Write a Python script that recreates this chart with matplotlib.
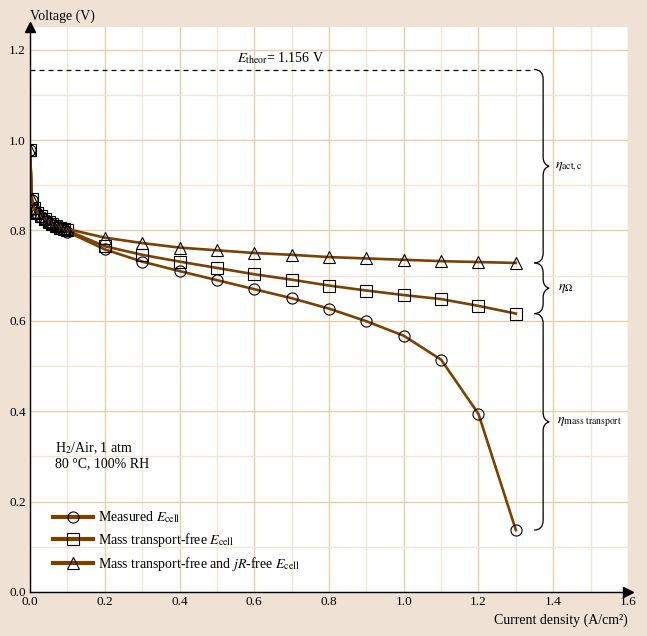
import numpy as np
import matplotlib
matplotlib.use("Agg")
import matplotlib.pyplot as plt
from matplotlib.path import Path
from matplotlib.patches import PathPatch


# -----------------------------
# Data
# -----------------------------

current_density = [0.0, 0.005, 0.01, 0.02, 0.03, 0.04, 0.05, 0.06, 0.07, 0.08, 0.09, 0.1,
                   0.2, 0.3, 0.4, 0.5, 0.6, 0.7, 0.8, 0.9, 1.0, 1.1, 1.2, 1.3]

measured = [0.979, 0.868, 0.848, 0.838, 0.830, 0.823, 0.817, 0.812, 0.808, 0.804, 0.800, 0.797,
            0.758, 0.731, 0.710, 0.690, 0.670, 0.650, 0.627, 0.599, 0.567, 0.514, 0.394, 0.137]

mass_transport_free = [0.979, 0.869, 0.849, 0.839, 0.832, 0.825, 0.819, 0.814, 0.810, 0.806, 0.803, 0.800,
                       0.765, 0.746, 0.731, 0.717, 0.703, 0.691, 0.678, 0.667, 0.657, 0.648, 0.633, 0.616]

jr_free = [0.979, 0.870, 0.850, 0.840, 0.833, 0.827, 0.821, 0.816, 0.812, 0.809, 0.806, 0.803,
           0.784, 0.772, 0.762, 0.756, 0.750, 0.746, 0.741, 0.738, 0.735, 0.732, 0.730, 0.728]

e_theor = 1.156

BG = "#EFE2D5"
LINE = "#7A4100"
MAJOR = "#E6CDAA"
MINOR = "#F1E5D8"

plt.rcParams["font.family"] = ["Liberation Serif", "DejaVu Serif"]
plt.rcParams["mathtext.fontset"] = "stix"
plt.rcParams["font.size"] = 10

fig = plt.figure(figsize=(6.47, 6.36), dpi=100, facecolor=BG)
ax = fig.add_axes([0.0464, 0.0692, 0.9242, 0.8883])
ax.set_facecolor("white")

ax.set_xlim(0, 1.6)
ax.set_ylim(0, 1.25)
ax.set_xticks(np.arange(0, 1.61, 0.2))
ax.set_yticks(np.arange(0, 1.21, 0.2))
ax.set_xticks(np.arange(0.1, 1.6, 0.2), minor=True)
ax.set_yticks(np.arange(0.1, 1.25, 0.2), minor=True)
ax.grid(which="major", color=MAJOR, lw=1.0, zorder=0)
ax.grid(which="minor", color=MINOR, lw=1.0, zorder=0)
ax.set_axisbelow(True)
ax.tick_params(which="both", length=0, labelsize=9.5)
ax.tick_params(axis="x", pad=3)
ax.tick_params(axis="y", pad=3)
ax.xaxis.set_major_formatter(matplotlib.ticker.FormatStrFormatter("%.1f"))
ax.yaxis.set_major_formatter(matplotlib.ticker.FormatStrFormatter("%.1f"))

for side in ["top", "right"]:
    ax.spines[side].set_visible(False)
for side in ["left", "bottom"]:
    ax.spines[side].set_color("black")
    ax.spines[side].set_linewidth(1.0)

# axis arrows
ax.plot([0], [1], marker="^", ms=7, color="black", transform=ax.transAxes, clip_on=False)
ax.plot([1], [0], marker=">", ms=7, color="black", transform=ax.transAxes, clip_on=False)

# curves
mk = dict(mfc="none", mec="black", mew=0.8, ms=8, color=LINE, lw=1.9)
ax.plot(current_density, measured, marker="o", label=r"Measured $E_{\rm cell}$", **mk)
ax.plot(current_density, mass_transport_free, marker="s",
        label=r"Mass transport-free $E_{\rm cell}$", **mk)
ax.plot(current_density, jr_free, marker="^",
        label=r"Mass transport-free and $jR$-free $E_{\rm cell}$", **mk)

# theoretical voltage
x_brace = 1.373
hook_w = 0.024
ax.plot([0, x_brace - hook_w], [e_theor, e_theor], color="black", lw=0.9, ls=(0, (4, 3.2)))
ax.text(0.67, e_theor + 0.008, r"$E_{\rm theor}$= 1.156 V", ha="center", va="bottom", fontsize=10)


def brace(x0, y_top, y_bot, label, label_x):
    w, h, tw, th = hook_w, 0.022, 0.016, 0.02
    ym = (y_top + y_bot) / 2
    verts = [(x0 - w, y_top), (x0, y_top), (x0, y_top - h),
             (x0, ym + th), (x0, ym + 0.004), (x0 + tw, ym),
             (x0, ym - 0.004), (x0, ym - th),
             (x0, y_bot + h), (x0, y_bot), (x0 - w, y_bot)]
    codes = [Path.MOVETO, Path.CURVE3, Path.CURVE3,
             Path.LINETO, Path.CURVE3, Path.CURVE3,
             Path.CURVE3, Path.CURVE3,
             Path.LINETO, Path.CURVE3, Path.CURVE3]
    ax.add_patch(PathPatch(Path(verts, codes), fc="none", ec="black", lw=0.9))
    ax.text(label_x, ym, label, ha="left", va="center", fontsize=10)


brace(x_brace, e_theor, jr_free[-1], r"$\eta_{\rm act,c}$", 1.405)
brace(x_brace, jr_free[-1], mass_transport_free[-1], r"$\eta_{\Omega}$", 1.412)
brace(x_brace, mass_transport_free[-1], measured[-1], r"$\eta_{\rm mass\ transport}$", 1.41)

# conditions
ax.text(0.067, 0.303, "H$_2$/Air, 1 atm\n80 °C, 100% RH", ha="left", va="center",
        fontsize=10, linespacing=1.15)

leg = ax.legend(loc="upper left", bbox_to_anchor=(0.038, 0.146), frameon=False,
                borderaxespad=0, borderpad=0, handlelength=2.9, handletextpad=0.35,
                labelspacing=0.42, fontsize=10)
for line in leg.get_lines():
    line.set_linewidth(3.0)

# axis labels
ax.annotate("Voltage (V)", xy=(0, 1), xycoords="axes fraction", xytext=(0, 8),
            textcoords="offset points", ha="left", va="center", fontsize=10)
ax.annotate("Current density (A/cm²)", xy=(1, 0), xycoords="axes fraction", xytext=(0, -20),
            textcoords="offset points", ha="right", va="center", fontsize=10)

fig.savefig("out.png", dpi=100, facecolor=BG)
